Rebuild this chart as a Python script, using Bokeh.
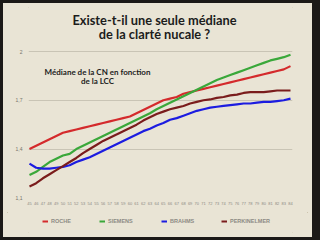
from bokeh.plotting import figure
from bokeh.layouts import column
from bokeh.models import Range1d, FixedTicker, Label, Legend, LegendItem
from bokeh.embed import file_html
from bokeh.resources import INLINE

# ---- data -------------------------------------------------------------
lcc = list(range(45, 85))
roche = [1.40, 1.42, 1.44, 1.46, 1.48, 1.50, 1.51, 1.52, 1.53, 1.54,
         1.55, 1.56, 1.57, 1.58, 1.59, 1.60, 1.62, 1.64, 1.66, 1.68,
         1.70, 1.71, 1.72, 1.74, 1.75, 1.76, 1.77, 1.78, 1.79, 1.80,
         1.81, 1.82, 1.83, 1.84, 1.85, 1.86, 1.87, 1.88, 1.89, 1.91]
siemens = [1.24, 1.26, 1.29, 1.32, 1.34, 1.36, 1.37, 1.40, 1.42, 1.44,
           1.46, 1.48, 1.50, 1.52, 1.54, 1.56, 1.58, 1.60, 1.62, 1.645,
           1.665, 1.685, 1.705, 1.725, 1.745, 1.765, 1.785, 1.805, 1.825, 1.84,
           1.855, 1.87, 1.885, 1.90, 1.915, 1.93, 1.945, 1.955, 1.965, 1.98]
brahms = [1.31, 1.285, 1.28, 1.28, 1.285, 1.29, 1.30, 1.32, 1.335, 1.35,
          1.37, 1.39, 1.41, 1.43, 1.45, 1.47, 1.49, 1.51, 1.525, 1.545,
          1.56, 1.58, 1.59, 1.605, 1.62, 1.635, 1.645, 1.655, 1.66, 1.665,
          1.67, 1.675, 1.68, 1.68, 1.685, 1.69, 1.69, 1.695, 1.70, 1.71]
perkinelmer = [1.17, 1.19, 1.22, 1.245, 1.27, 1.295, 1.32, 1.345, 1.375, 1.40,
               1.425, 1.45, 1.47, 1.49, 1.51, 1.53, 1.55, 1.575, 1.595, 1.615,
               1.63, 1.645, 1.655, 1.665, 1.68, 1.69, 1.70, 1.705, 1.715, 1.72,
               1.73, 1.735, 1.745, 1.75, 1.75, 1.75, 1.755, 1.76, 1.76, 1.76]
series_names = ["ROCHE", "SIEMENS", "BRAHMS", "PERKINELMER"]
y_ticks = [1.1, 1.4, 1.7, 2.0]
y_tick_labels = ["1,1", "1,4", "1,7", "2"]
title_lines = ["Existe-t-il une seule médiane", "de la clarté nucale ?"]
subtitle_lines = ["Médiane de la CN en fonction", "de la LCC"]

# ---- geometry (page pixels) ------------------------------------------
OFF_L, OFF_T, OFF_R, OFF_B = 3, 3, 8, 3          # dark slide frame
W = 320 - OFF_L - OFF_R
SPLIT = 212                                      # page y where legend strip starts
HA = SPLIT - OFF_T
HB = (240 - OFF_B) - SPLIT
FL, FR, FT, FB = 28, 292, 4, 199                 # plot frame, page px
SX = 261 / 39.0
SY = (197.3 - 51.0) / 0.9
X0 = 45 - (29 - FL) / SX
X1 = X0 + (FR - FL) / SX
Y1 = 2.0 + (51 - FT) / SY
Y0 = Y1 - (FB - FT) / SY


def dx(px):
    return X0 + (px - FL) / SX


def dy(py):
    return Y1 - (py - FT) / SY


PAPER = "#e9e4d5"
TICK_GREY = "#8c8a84"
colors = ["#d42a2c", "#3aa83a", "#1c1ce0", "#7a1c1c"]
values = [roche, siemens, brahms, perkinelmer]

p = figure(width=W, height=HA, output_backend="svg", toolbar_location=None,
           x_range=Range1d(X0, X1), y_range=Range1d(Y0, Y1),
           min_border_left=FL - OFF_L, min_border_right=(320 - OFF_R) - FR,
           min_border_top=FT - OFF_T, min_border_bottom=SPLIT - FB,
           background_fill_color=PAPER, border_fill_color=PAPER,
           outline_line_color=None)

# axes
p.xaxis.ticker = FixedTicker(ticks=lcc)
p.xaxis.axis_line_color = None
p.xaxis.major_tick_line_color = None
p.xaxis.minor_tick_line_color = None
p.xaxis.major_tick_out = 0
p.xaxis.major_label_text_font_size = "4px"
p.xaxis.major_label_text_color = TICK_GREY
p.xaxis.major_label_standoff = 2
p.xaxis.major_label_text_font = "Liberation Sans"

p.yaxis.ticker = FixedTicker(ticks=y_ticks)
p.yaxis.major_label_overrides = dict(zip(y_ticks, y_tick_labels))
p.yaxis.axis_line_color = None
p.yaxis.major_tick_line_color = None
p.yaxis.minor_tick_line_color = None
p.yaxis.major_tick_out = 0
p.yaxis.major_label_text_font_size = "5px"
p.yaxis.major_label_text_color = "#77746c"
p.yaxis.major_label_standoff = 6
p.yaxis.major_label_text_font = "Liberation Sans"

p.xgrid.visible = False
p.ygrid.ticker = FixedTicker(ticks=y_ticks[1:])
p.ygrid.grid_line_color = "#c9c4b5"
p.ygrid.grid_line_width = 1

for vals, c in zip(values, colors):
    p.line(lcc, vals, line_color=c, line_width=2.2)

# titles (inside the frame, which reaches the top of the sheet)
for txt, py in zip(title_lines, [19.5, 33]):
    p.add_layout(Label(x=dx(154), y=dy(py), text=txt, text_align="center",
                       text_baseline="middle", text_font="Lato",
                       text_font_style="bold", text_font_size="12.8px",
                       text_color="#1c1c1c"))
for txt, py in zip(subtitle_lines, [71, 80]):
    p.add_layout(Label(x=dx(97), y=dy(py), text=txt, text_align="center",
                       text_baseline="middle", text_font="Lato",
                       text_font_style="bold", text_font_size="8px",
                       text_color="#1c1c1c"))

# ---- legend strip (its frame is aligned with the chart's frame) -------
q = figure(width=W, height=HB, output_backend="svg", toolbar_location=None,
           x_range=Range1d(0, 1), y_range=Range1d(0, 1),
           x_axis_location=None, y_axis_location=None,
           min_border_left=0, min_border_right=0, min_border_top=0,
           min_border_bottom=0, background_fill_color=PAPER,
           border_fill_color=PAPER, outline_line_color=None)
q.grid.visible = False
leg_x = [42, 99, 161, 221]                       # page x of each key
for name, vals, c, lx in zip(series_names, values, colors, leg_x):
    # same series, outside this strip's view: only its legend key shows
    r = q.line(lcc, vals, line_color=c, line_width=2)
    lg = Legend(items=[LegendItem(label=name, renderers=[r])],
                location=(lx - FL, HB - (225 - SPLIT)),
                orientation="horizontal",
                glyph_width=6, glyph_height=8, label_standoff=3,
                label_text_font_size="5.5px", label_text_color=TICK_GREY,
                label_text_font="Liberation Sans",
                label_text_font_style="bold",
                label_height=8, label_width=10, padding=0, margin=0,
                border_line_color=None, background_fill_alpha=0)
    q.add_layout(lg, "center")

sheet = column(p, q, margin=(OFF_T, OFF_R, OFF_B, OFF_L),
               styles={"background-color": PAPER,
                       "outline": "1px solid #c4bba2",
                       "outline-offset": "-5px"})
layout = column(sheet, styles={"background-color": "#1b1917"})
open("out.html", "w").write(file_html(layout, INLINE))
